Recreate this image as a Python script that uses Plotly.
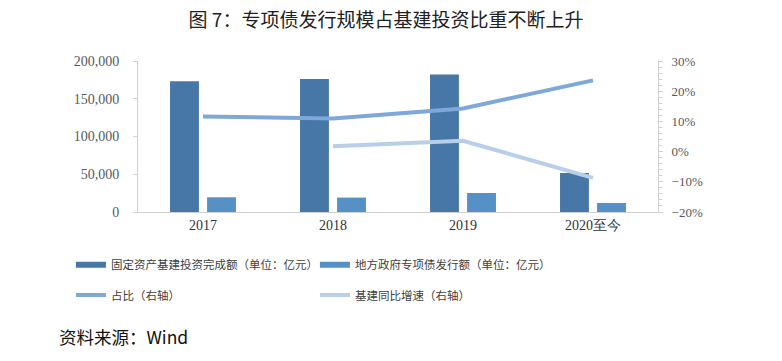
import plotly.graph_objects as go

categories = ["2017", "2018", "2019", "2020至今"]
infra_invest = [173100, 176200, 182000, 51700]
special_bond = [19500, 19100, 25200, 12000]
share_pct = [11.6, 11.0, 14.3, 23.6]
infra_yoy = [None, 1.8, 3.6, -8.7]

left_ticks = [0, 50000, 100000, 150000, 200000]

C_BAR1 = "#4777A6"
C_BAR2 = "#5591C6"
C_L1 = "#7DA8D8"
C_L2 = "#B9CEE9"
FONT = "Noto Sans CJK SC"
TICKC = "#595959"

fig = go.Figure()
fig.add_trace(go.Bar(x=categories, y=infra_invest, marker_color=C_BAR1,
                     marker_line_width=0, showlegend=False, yaxis="y"))
fig.add_trace(go.Bar(x=categories, y=special_bond, marker_color=C_BAR2,
                     marker_line_width=0, showlegend=False, yaxis="y"))
fig.add_trace(go.Scatter(x=categories, y=share_pct, mode="lines", yaxis="y2",
                         line=dict(color=C_L1, width=4), showlegend=False))
fig.add_trace(go.Scatter(x=categories, y=infra_yoy, mode="lines", yaxis="y2",
                         line=dict(color=C_L2, width=4), showlegend=False,
                         connectgaps=False))

# legend proxies
fig.add_trace(go.Scatter(x=[None], y=[None], mode="lines", name="固定资产基建投资完成额（单位：亿元）",
                         line=dict(color=C_BAR1, width=6), legend="legend"))
fig.add_trace(go.Scatter(x=[None], y=[None], mode="lines", name="地方政府专项债发行额（单位：亿元）",
                         line=dict(color=C_BAR2, width=6), legend="legend"))
fig.add_trace(go.Scatter(x=[None], y=[None], mode="lines", name="占比（右轴）",
                         line=dict(color=C_L1, width=4), legend="legend2"))
fig.add_trace(go.Scatter(x=[None], y=[None], mode="lines", name="基建同比增速（右轴）",
                         line=dict(color=C_L2, width=4), legend="legend2"))

legend_common = dict(orientation="h", xanchor="left", yanchor="middle",
                     font=dict(family=FONT, size=11.5, color="#404040"),
                     entrywidthmode="pixels", entrywidth=199,
                     bgcolor="rgba(0,0,0,0)", itemwidth=30)

fig.update_layout(
    width=782, height=361,
    margin=dict(l=138, r=124, t=61, b=149, autoexpand=False),
    paper_bgcolor="white", plot_bgcolor="white",
    barmode="group", bargap=0.43, bargroupgap=0.22,
    title=dict(text="图 7：专项债发行规模占基建投资比重不断上升", x=0.4936, xanchor="center",
               y=0.945, yanchor="middle",
               font=dict(family=FONT, size=19, color="#222222")),
    xaxis=dict(showline=True, linecolor="#D0D0D0", linewidth=1, ticks="",
               showgrid=False, tickfont=dict(family="Liberation Serif", size=14, color="#333333"),
               fixedrange=True),
    yaxis=dict(range=[0, 200000], tickvals=left_ticks, tickformat=",",
               showline=True, linecolor="#D0D0D0", linewidth=1,
               ticks="outside", ticklen=4, tickcolor="#D0D0D0", ticklabelstandoff=11,
               showgrid=False, zeroline=False,
               tickfont=dict(family="Liberation Serif", size=14, color=TICKC)),
    yaxis2=dict(range=[-20, 30], tickmode="linear", tick0=-20, dtick=10, ticksuffix="%",
                overlaying="y", side="right",
                showline=True, linecolor="#D0D0D0", linewidth=1,
                ticks="outside", ticklen=4, tickcolor="#D0D0D0", ticklabelstandoff=6,
                minor=dict(dtick=2, tick0=-20, ticks="outside", ticklen=3, tickcolor="#D0D0D0"),
                showgrid=False, zeroline=False,
                tickfont=dict(family="Liberation Serif", size=13, color=TICKC)),
    legend=dict(x=-0.129, y=-0.35, **legend_common),
    legend2=dict(x=-0.129, y=-0.55, **legend_common),
    annotations=[dict(text="资料来源：Wind", xref="paper", yref="paper",
                      x=-0.156, y=-0.825, xanchor="left", yanchor="middle",
                      showarrow=False,
                      font=dict(family=FONT, size=17.5, color="#111111"))],
)

fig.write_html("out.html", config={"displayModeBar": False},
               post_script="document.body.style.margin='0';document.body.style.padding='0';")
